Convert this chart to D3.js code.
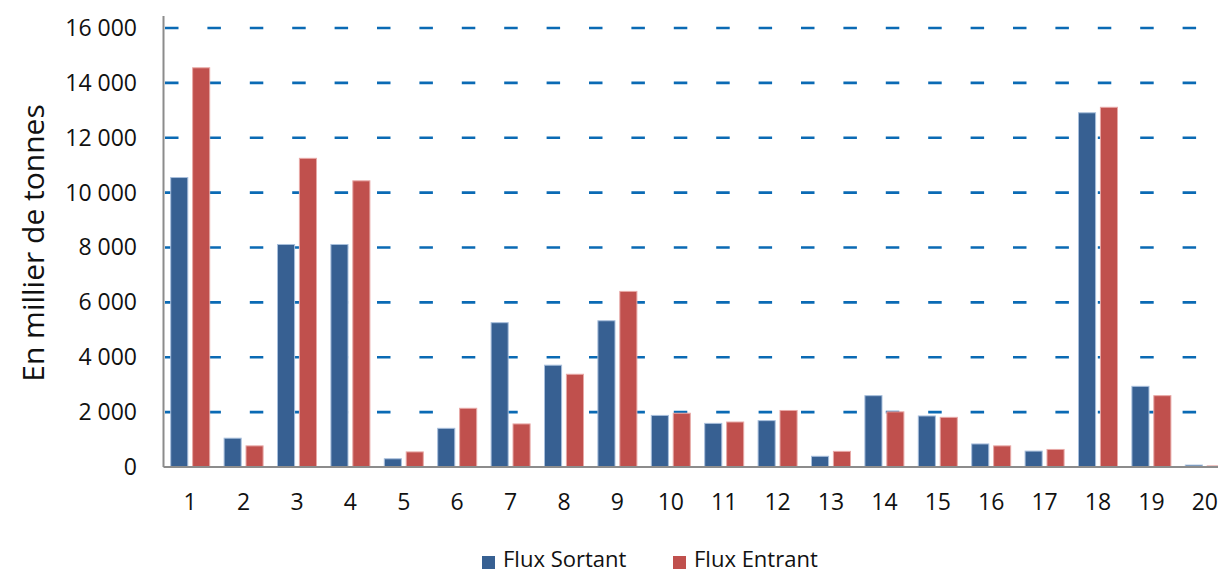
<!DOCTYPE html>
<html>
<head>
<meta charset="utf-8">
<script src="https://cdn.jsdelivr.net/npm/d3@7"></script>
<style>
  html, body { margin: 0; padding: 0; background: #fff; }
  svg { display: block; font-family: "Open Sans", "Noto Sans", sans-serif; }
</style>
</head>
<body>
<svg id="chart" width="1218" height="573"></svg>
<script>
const categories = ["1","2","3","4","5","6","7","8","9","10","11","12","13","14","15","16","17","18","19","20"];
const fluxSortant = [10550, 1050, 8110, 8110, 300, 1410, 5260, 3710, 5330, 1880, 1590, 1690, 390, 2600, 1860, 840, 580, 12910, 2940, 70];
const fluxEntrant = [14550, 770, 11250, 10430, 550, 2140, 1570, 3380, 6400, 1960, 1640, 2060, 570, 2010, 1810, 770, 640, 13110, 2600, 40];
const seriesNames = ["Flux Sortant", "Flux Entrant"];
const seriesColors = ["#376092", "#C0504D"];
const seriesStrokes = ["#a8bfdc", "#e8a9a7"];
const yTicks = [0, 2000, 4000, 6000, 8000, 10000, 12000, 14000, 16000];
const yTitle = "En millier de tonnes";

const svg = d3.select("#chart");
const mLeft = 163.5, mRight = 1231.5, mTop = 28, mBottom = 467;

const x0 = d3.scaleBand().domain(categories).range([mLeft, mRight]).padding(0);
const x1 = d3.scaleBand().domain(seriesNames).range([7.2, 46.2]).paddingInner(0.22);
const y = d3.scaleLinear().domain([0, 16000]).range([mBottom, mTop]);

const fmt = v => d3.format(",")(v).replace(/,/g, " ");

// gridlines (dashed)
svg.append("g").selectAll("line").data(yTicks.filter(t => t > 0)).join("line")
  .attr("x1", 165).attr("x2", 1218)
  .attr("y1", d => y(d)).attr("y2", d => y(d))
  .attr("stroke", "#0a6ab4").attr("stroke-width", 2.6)
  .attr("stroke-dasharray", "13.5,28.9");

// bars
const data = categories.map((c, i) => ({ c, vals: [fluxSortant[i], fluxEntrant[i]] }));
const g = svg.append("g").selectAll("g").data(data).join("g")
  .attr("transform", d => `translate(${x0(d.c)},0)`);
g.selectAll("rect").data(d => d.vals.map((v, k) => ({ v, k }))).join("rect")
  .attr("x", d => x1(seriesNames[d.k]))
  .attr("width", x1.bandwidth())
  .attr("y", d => y(d.v))
  .attr("height", d => mBottom - y(d.v))
  .attr("fill", d => seriesColors[d.k])
  .attr("stroke", d => seriesStrokes[d.k])
  .attr("stroke-width", 1);

// axes lines
svg.append("line").attr("x1", mLeft).attr("x2", mLeft).attr("y1", 16).attr("y2", mBottom)
  .attr("stroke", "#8c8c8c").attr("stroke-width", 2);
svg.append("line").attr("x1", mLeft).attr("x2", 1218).attr("y1", mBottom).attr("y2", mBottom)
  .attr("stroke", "#8c8c8c").attr("stroke-width", 2);

// y tick labels via axis
const yAxis = d3.axisLeft(y).tickValues(yTicks).tickFormat(fmt).tickSize(0).tickPadding(0);
const ya = svg.append("g").attr("transform", "translate(137,0)").call(yAxis);
ya.select(".domain").remove();
ya.selectAll("text").attr("font-size", 23).attr("fill", "#111").attr("font-family", "Open Sans, sans-serif");

// x tick labels via axis
const xAxis = d3.axisBottom(x0).tickSize(0).tickPadding(0);
const xa = svg.append("g").attr("transform", "translate(0,494)").call(xAxis);
xa.select(".domain").remove();
xa.selectAll("text").attr("font-size", 23).attr("fill", "#111").attr("font-family", "Open Sans, sans-serif");

// y title
svg.append("text")
  .attr("transform", "translate(44,243) rotate(-90)")
  .attr("text-anchor", "middle")
  .attr("font-size", 30).attr("fill", "#111")
  .text(yTitle);

// legend
const legX = [482, 673];
seriesNames.forEach((n, k) => {
  svg.append("rect").attr("x", legX[k]).attr("y", 556).attr("width", 13).attr("height", 13)
    .attr("fill", seriesColors[k]);
  svg.append("text").attr("x", legX[k] + 21).attr("y", 567)
    .attr("font-size", 22).attr("fill", "#111").text(n);
});
</script>
</body>
</html>
